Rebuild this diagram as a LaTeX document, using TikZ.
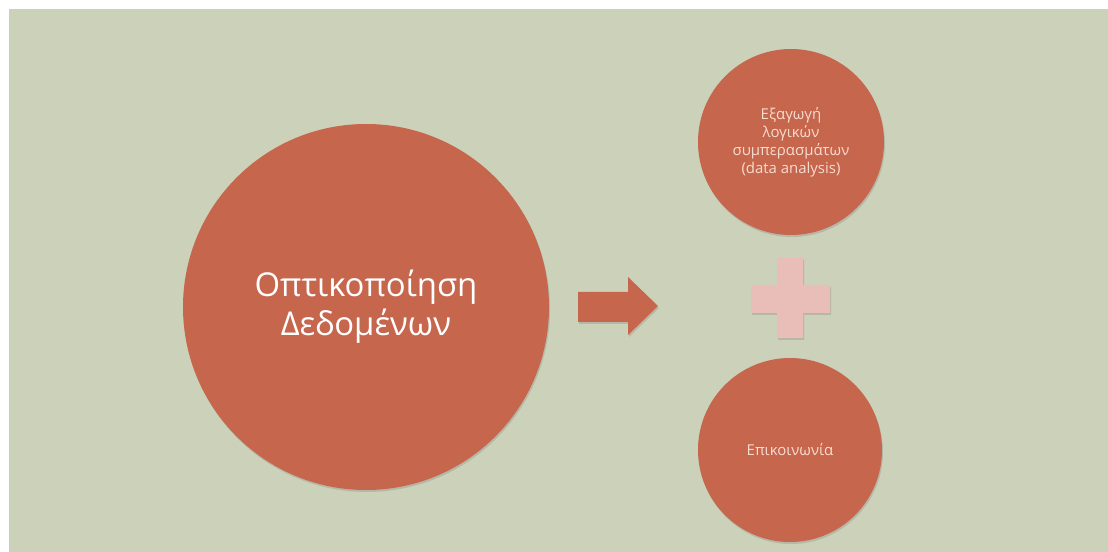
\documentclass[tikz,border=0pt]{standalone}
\usepackage{fontspec}
\setmainfont{Open Sans}
\usetikzlibrary{shapes, shadows}

\definecolor{sage}{RGB}{204,209,185}
\definecolor{rust}{RGB}{198,102,77}
\definecolor{blush}{RGB}{233,189,184}
\definecolor{cream}{RGB}{247,220,208}

\begin{document}
\begin{tikzpicture}[x=1bp,y=-1bp]
      \tikzset{soft shadow/.style={drop shadow={shadow xshift=1bp,
            shadow yshift=-2bp,
            opacity=0.3}},
        topic/.style={circle,
          fill=rust,
          inner sep=0pt,
          minimum size=#1,
          align=center,
          soft shadow}
      }
      \useasboundingbox (0,0) rectangle (1108,552);
      \fill [sage] (9,9) rectangle (1108,552);

      \node [topic=366bp, text=white, font=\fontsize{33}{39}\selectfont] (viz) at (366,307) {Οπτικοποίηση\\Δεδομένων};
      \node [topic=186bp, text=cream, font=\fontsize{15}{18}\selectfont] (analysis) at (791,142) {Εξαγωγή\\λογικών\\συμπερασμάτων\\(data analysis)};
      \node [topic=184bp, text=cream, font=\fontsize{15}{18}\selectfont] (comm) at (790,450) {Επικοινωνία};

      % block arrow and plus sign
      \fill [rust, soft shadow] (578,292) -- (628,292) -- (628,277) -- (658,306)
        -- (628,335) -- (628,322) -- (578,322) -- cycle;
      \fill [blush, soft shadow] (777,258) -- (803,258) -- (803,285) -- (830,285)
        -- (830,313) -- (803,313) -- (803,338) -- (777,338) -- (777,313)
        -- (751,313) -- (751,285) -- (777,285) -- cycle;

    \end{tikzpicture}
\end{document}
